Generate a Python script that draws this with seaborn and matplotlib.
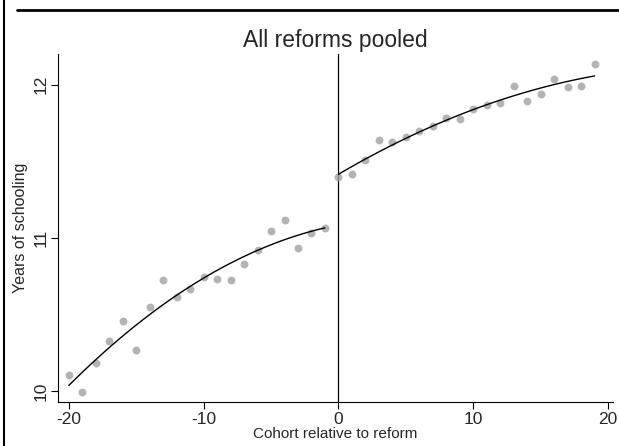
import matplotlib
matplotlib.use("Agg")
import matplotlib.pyplot as plt
import seaborn as sns
import pandas as pd
from matplotlib.lines import Line2D

# cohort means, before and after the reform
cohort_pre = list(range(-20, 0))
school_pre = [10.107, 9.998, 10.181, 10.329, 10.458, 10.270, 10.550, 10.728, 10.617, 10.667,
              10.743, 10.732, 10.728, 10.830, 10.920, 11.046, 11.118, 10.933, 11.033, 11.063]
cohort_post = list(range(0, 20))
school_post = [11.397, 11.418, 11.506, 11.639, 11.623, 11.658, 11.699, 11.728, 11.782, 11.774,
               11.839, 11.869, 11.878, 11.994, 11.893, 11.939, 12.037, 11.987, 11.992, 12.135]

x_ticks = [-20, -10, 0, 10, 20]
y_ticks = [10, 11, 12]

pre = pd.DataFrame({"cohort": cohort_pre, "years": school_pre})
post = pd.DataFrame({"cohort": cohort_post, "years": school_post})

sns.set_style("ticks")
plt.rcParams['font.family'] = ['Liberation Sans', 'DejaVu Sans']
plt.rcParams['axes.unicode_minus'] = False

fig = plt.figure(figsize=(6.19, 4.46), dpi=100)
ax = fig.add_axes([0.0937, 0.0987, 0.8963, 0.7803])

# scatter of cohort means plus quadratic fit on each side
for d in (pre, post):
    sns.regplot(x="cohort", y="years", data=d, order=2, ci=None, ax=ax,
                scatter_kws={"color": "#a0a0a0", "s": 32, "linewidths": 0, "zorder": 2},
                line_kws={"color": "black", "lw": 1.0, "zorder": 3})

ax.axvline(0, color="black", lw=0.9, zorder=1)

ax.set_xlim(-20.8, 20.35)
ax.set_ylim(9.93, 12.2)
ax.set_xticks(x_ticks)
ax.set_yticks(y_ticks)
ax.tick_params(axis="both", labelsize=12.5, length=5, width=0.8, color="black", pad=2)
plt.setp(ax.get_yticklabels(), rotation=90, va="center")
ax.set_xlabel("Cohort relative to reform", fontsize=11, labelpad=0)
ax.set_ylabel("Years of schooling", fontsize=11.5, labelpad=4)
ax.set_title("All reforms pooled", fontsize=16.5, pad=5)
sns.despine(ax=ax)
for s in ("left", "bottom"):
    ax.spines[s].set_linewidth(0.8)
    ax.spines[s].set_color("black")

# frame lines from the source page
fig.add_artist(Line2D([0.006, 0.006], [0, 1], color="black", lw=1.5, transform=fig.transFigure))
fig.add_artist(Line2D([0.028, 1.0], [0.978, 0.978], color="black", lw=2, transform=fig.transFigure))

fig.savefig("out.png", dpi=100)
